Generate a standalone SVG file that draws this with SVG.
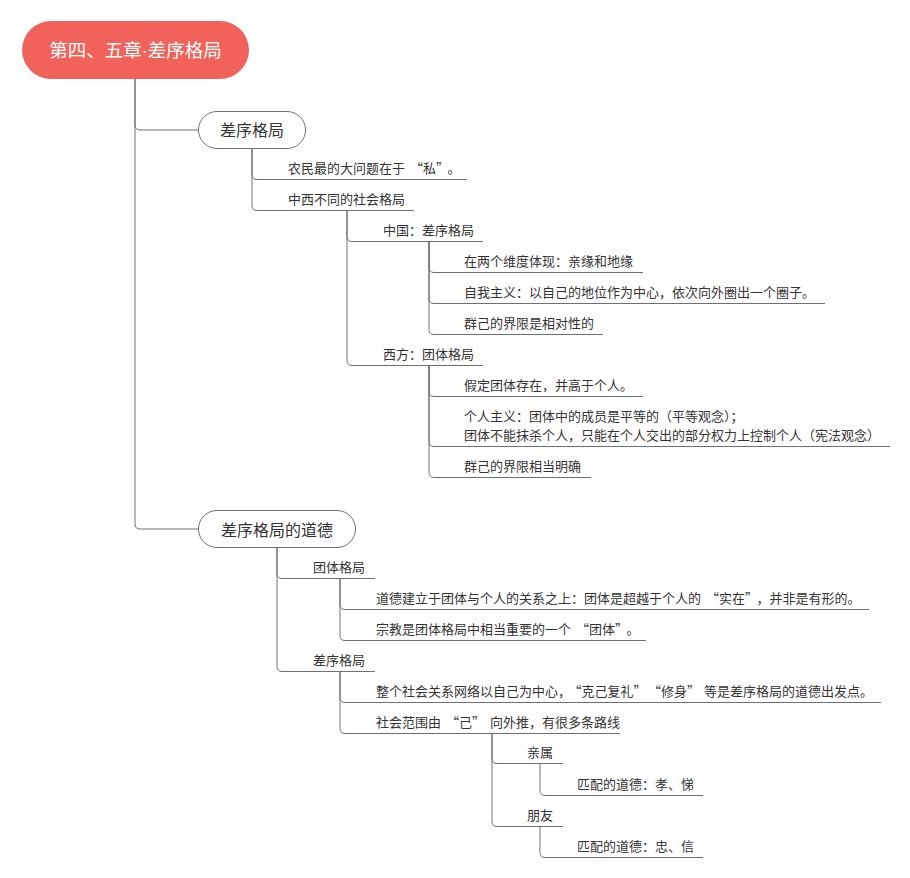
<svg xmlns="http://www.w3.org/2000/svg" width="910" height="878" viewBox="0 0 910 878">
<style>
text{font-family:"Noto Sans CJK SC","Noto Sans",sans-serif;fill:#333;}
.t{font-size:13px;}
.l1{font-size:16px;text-anchor:middle;}
.root{font-size:18.5px;fill:#fff;text-anchor:middle;}
.dot{font-family:"Liberation Sans",sans-serif;}
.u{stroke:#6b7178;stroke-width:1;fill:none;}
.c{stroke:#6b7178;stroke-width:1;fill:none;}
.box{fill:#fff;stroke:#6b7178;stroke-width:1;}
</style>
<rect width="910" height="878" fill="#fff"/>
<g id="connectors">
<path class="c" d="M135,79 V125 Q135,130 140,130 H198.5"/>
<path class="c" d="M135,79 V524 Q135,529 140,529 H198.5"/>
<path class="c" d="M252,148.5 V174.5 Q252,179.5 257,179.5 H280"/>
<path class="c" d="M252,148.5 V205.5 Q252,210.5 257,210.5 H280"/>
<path class="c" d="M347,210.5 V236.5 Q347,241.5 352,241.5 H375"/>
<path class="c" d="M347,210.5 V360.5 Q347,365.5 352,365.5 H375"/>
<path class="c" d="M429,241.5 V267.5 Q429,272.5 434,272.5 H456"/>
<path class="c" d="M429,241.5 V298.5 Q429,303.5 434,303.5 H456"/>
<path class="c" d="M429,241.5 V329.5 Q429,334.5 434,334.5 H456"/>
<path class="c" d="M429,365.5 V391.5 Q429,396.5 434,396.5 H456"/>
<path class="c" d="M429,365.5 V441.5 Q429,446.5 434,446.5 H456"/>
<path class="c" d="M429,365.5 V472.5 Q429,477.5 434,477.5 H456"/>
<path class="c" d="M277,547.5 V573.5 Q277,578.5 282,578.5 H305"/>
<path class="c" d="M277,547.5 V666.5 Q277,671.5 282,671.5 H305"/>
<path class="c" d="M340,578.5 V604.5 Q340,609.5 345,609.5 H368"/>
<path class="c" d="M340,578.5 V635.5 Q340,640.5 345,640.5 H368"/>
<path class="c" d="M340,671.5 V697.5 Q340,702.5 345,702.5 H368"/>
<path class="c" d="M340,671.5 V728.5 Q340,733.5 345,733.5 H368"/>
<path class="c" d="M492,733.5 V758.5 Q492,763.5 497,763.5 H519"/>
<path class="c" d="M492,733.5 V821.5 Q492,826.5 497,826.5 H519"/>
<path class="c" d="M540,763.5 V790.5 Q540,795.5 545,795.5 H569"/>
<path class="c" d="M540,826.5 V852.5 Q540,857.5 545,857.5 H569"/>
</g>
<g id="root">
<rect x="22" y="21" width="227" height="58" rx="29" fill="#F0625A"/>
<text class="root" x="135.5" y="57">第四、五章<tspan class="dot">·</tspan>差序格局</text>
</g>
<g id="n-chaxu">
<rect class="box" x="198.5" y="111.5" width="107" height="37" rx="18.5"/>
<text class="l1" x="252" y="136">差序格局</text>
</g>
<g id="n-si">
<text class="t" x="288" y="173">农民最的大问题在于<tspan dx="5">“</tspan>私”<tspan dx="5">。</tspan></text>
<line class="u" x1="280" y1="179.5" x2="467" y2="179.5"/>
</g>
<g id="n-zhongxi">
<text class="t" x="288" y="204">中西不同的社会格局</text>
<line class="u" x1="280" y1="210.5" x2="414" y2="210.5"/>
</g>
<g id="n-zhongguo">
<text class="t" x="383" y="235">中国：差序格局</text>
<line class="u" x1="375" y1="241.5" x2="483" y2="241.5"/>
</g>
<g id="n-c1">
<text class="t" x="464" y="266">在两个维度体现：亲缘和地缘</text>
<line class="u" x1="456" y1="272.5" x2="643" y2="272.5"/>
</g>
<g id="n-c2">
<text class="t" x="464" y="297">自我主义：以自己的地位作为中心，依次向外圈出一个圈子。</text>
<line class="u" x1="456" y1="303.5" x2="825" y2="303.5"/>
</g>
<g id="n-c3">
<text class="t" x="464" y="328">群己的界限是相对性的</text>
<line class="u" x1="456" y1="334.5" x2="603" y2="334.5"/>
</g>
<g id="n-xifang">
<text class="t" x="383" y="359">西方：团体格局</text>
<line class="u" x1="375" y1="365.5" x2="483" y2="365.5"/>
</g>
<g id="n-c4">
<text class="t" x="464" y="390">假定团体存在，并高于个人。</text>
<line class="u" x1="456" y1="396.5" x2="643" y2="396.5"/>
</g>
<g id="n-c5">
<text class="t" x="464" y="421">个人主义：团体中的成员是平等的（平等观念）；</text>
<text class="t" x="464" y="440">团体不能抹杀个人，只能在个人交出的部分权力上控制个人（宪法观念）</text>
<line class="u" x1="456" y1="446.5" x2="890" y2="446.5"/>
</g>
<g id="n-c6">
<text class="t" x="464" y="471">群己的界限相当明确</text>
<line class="u" x1="456" y1="477.5" x2="591" y2="477.5"/>
</g>
<g id="n-daode">
<rect class="box" x="198.5" y="510.5" width="157" height="37" rx="18.5"/>
<text class="l1" x="277" y="535.5">差序格局的道德</text>
</g>
<g id="n-tuanti">
<text class="t" x="313" y="572">团体格局</text>
<line class="u" x1="305" y1="578.5" x2="375" y2="578.5"/>
</g>
<g id="n-e1">
<text class="t" x="376" y="603">道德建立于团体与个人的关系之上：团体是超越于个人的<tspan dx="5">“</tspan>实在”<tspan dx="5">，</tspan>并非是有形的。</text>
<line class="u" x1="368" y1="609.5" x2="869" y2="609.5"/>
</g>
<g id="n-e2">
<text class="t" x="376" y="634">宗教是团体格局中相当重要的一个<tspan dx="5">“</tspan>团体”<tspan dx="5">。</tspan></text>
<line class="u" x1="368" y1="640.5" x2="646" y2="640.5"/>
</g>
<g id="n-chaxu2">
<text class="t" x="313" y="665">差序格局</text>
<line class="u" x1="305" y1="671.5" x2="375" y2="671.5"/>
</g>
<g id="n-e3">
<text class="t" x="376" y="696">整个社会关系网络以自己为中心，<tspan dx="4">“</tspan>克己复礼”<tspan dx="8">“</tspan>修身”<tspan dx="4">等</tspan>是差序格局的道德出发点。</text>
<line class="u" x1="368" y1="702.5" x2="881" y2="702.5"/>
</g>
<g id="n-e4">
<text class="t" x="376" y="727">社会范围由<tspan dx="5">“</tspan>己”<tspan dx="5">向</tspan>外推，有很多条路线</text>
<line class="u" x1="368" y1="733.5" x2="620" y2="733.5"/>
</g>
<g id="n-qinshu">
<text class="t" x="527" y="757">亲属</text>
<line class="u" x1="519" y1="763.5" x2="563" y2="763.5"/>
</g>
<g id="n-g1">
<text class="t" x="577" y="789">匹配的道德：孝、悌</text>
<line class="u" x1="569" y1="795.5" x2="703" y2="795.5"/>
</g>
<g id="n-pengyou">
<text class="t" x="527" y="820">朋友</text>
<line class="u" x1="519" y1="826.5" x2="563" y2="826.5"/>
</g>
<g id="n-g2">
<text class="t" x="577" y="851">匹配的道德：忠、信</text>
<line class="u" x1="569" y1="857.5" x2="703" y2="857.5"/>
</g>
</svg>
